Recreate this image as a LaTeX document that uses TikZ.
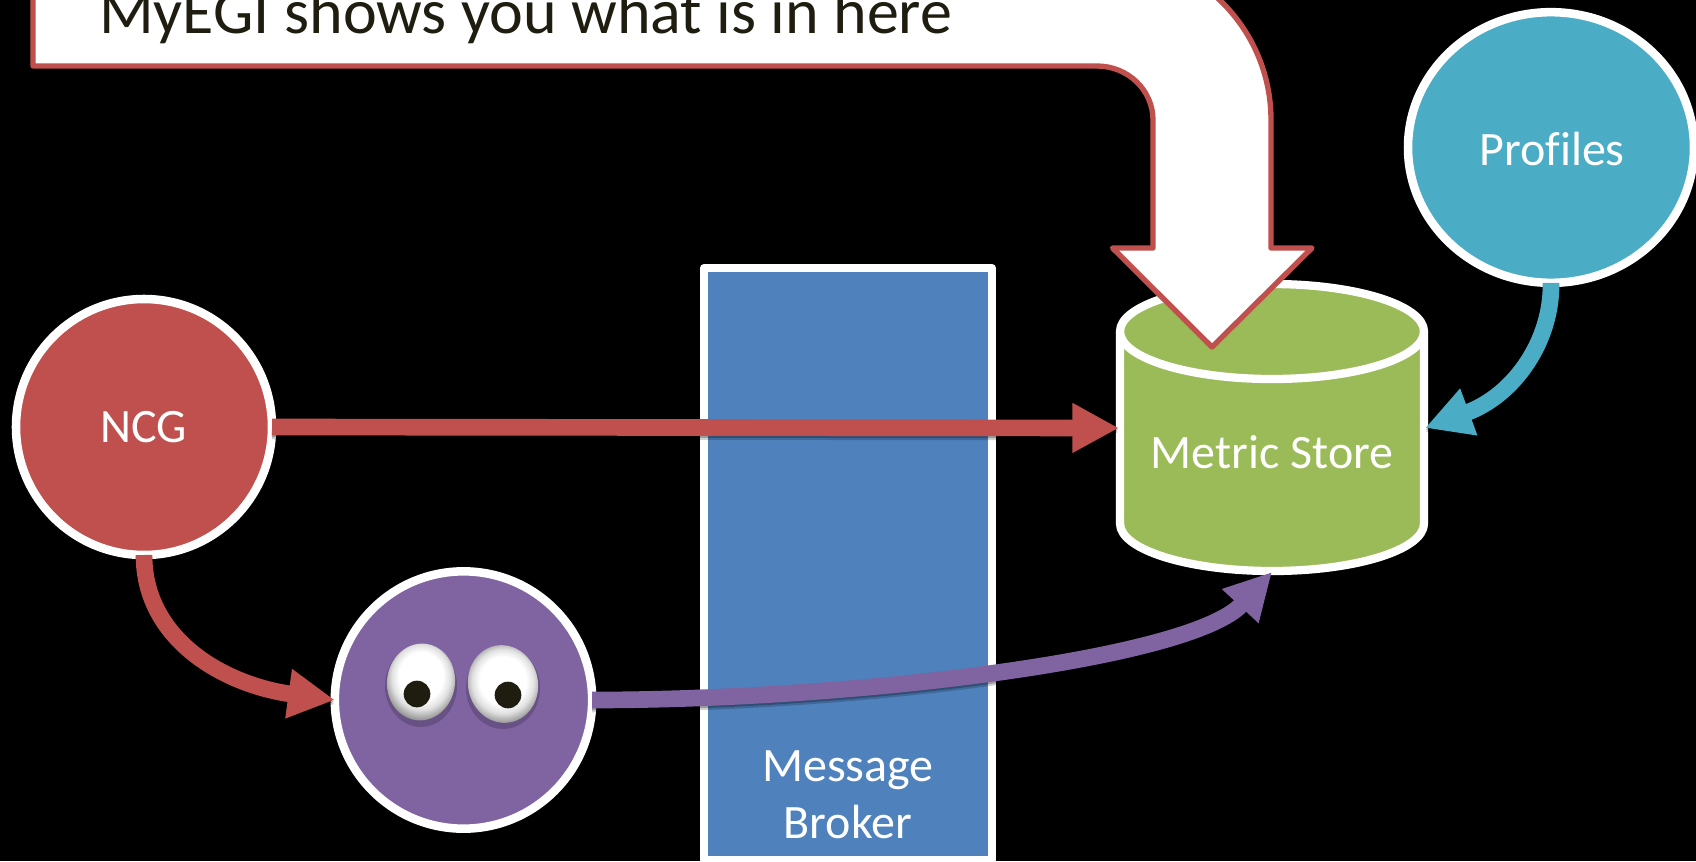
\documentclass[tikz,border=0pt]{standalone}
\usepackage{fontspec}
\setmainfont{Carlito}
\usetikzlibrary{arrows.meta,calc,shapes.geometric}
\definecolor{cred}{HTML}{C0504D}
\definecolor{cpurple}{HTML}{8064A2}
\definecolor{cblue}{HTML}{4F81BD}
\definecolor{cgreen}{HTML}{9BBB59}
\definecolor{cteal}{HTML}{4BACC6}
\definecolor{ctext}{HTML}{1F1C10}
\pgfdeclareradialshading{eyeshade}{\pgfpoint{0bp}{5bp}}{color(0bp)=(white);color(15bp)=(white);color(20bp)=(black!12);color(25bp)=(black!38);color(30bp)=(black!65);color(50bp)=(black!65)}
\tikzset{
  x=0.75pt,y=-0.75pt,
  blob/.style={draw=white,line width=6.4pt,inner sep=0pt,outer sep=0pt,text=white,font=\fontsize{36}{42}\selectfont,align=center},
  lbl/.style={text=white,font=\fontsize{36}{42.5}\selectfont,align=center,inner sep=0pt},
  headtip/.style={-{Triangle[length=35pt,width=35pt]}},
  conn/.style={line width=12.5pt,headtip,
    preaction={draw=black,opacity=.18,transform canvas={yshift=-3pt},line width=12.5pt,headtip},
    preaction={draw=black,opacity=.25,transform canvas={yshift=-1.5pt},line width=12.5pt,headtip}},
  eyeball/.style={shading=eyeshade,draw=none},
  eyeshadow/.style={fill=black,fill opacity=.18,draw=none},
  pupil/.style={fill=ctext,draw=none,circle,inner sep=0pt,minimum size=20pt},
}
\begin{document}
\begin{tikzpicture}
\useasboundingbox (0,0) rectangle (1696,861);
\fill[black] (0,0) rectangle (1696,861);
\clip (0,0) rectangle (1696,861);
% broker
\node[draw=white,fill=cblue,line width=6.2pt,line join=round,minimum width=216pt,minimum height=444pt,inner sep=0pt,outer sep=0pt,anchor=north] (broker) at (848,268) {};
\node[lbl] (brokerlabel) at (848,795) {Message\\Broker};
% nodes
\node[blob,circle,fill=cred,minimum size=192pt] (ncg) at (144,427) {NCG};
\node[blob,circle,fill=cpurple,minimum size=193pt] (watcher) at (463.5,700) {};
\node[blob,ellipse,fill=cteal,minimum width=214.5pt,minimum height=203pt] (profiles) at (1551,147.5) {};
\node[lbl] (profileslabel) at (1552,149) {Prof\kern0pt iles};
% metric store
\path[fill=cgreen,draw=white,line width=6.2pt,line join=round] (1120,331.5) arc[start angle=180,end angle=360,x radius=152,y radius=47.5] -- (1424,523.5) arc[start angle=0,end angle=180,x radius=152,y radius=47.5] -- cycle;
\draw[white,line width=6.2pt] (1120,331.5) arc[start angle=180,end angle=0,x radius=152,y radius=47.5];
\node[minimum width=229.5pt,minimum height=216pt,inner sep=0pt,outer sep=0pt] (store) at (1272,428) {};
\node[lbl] (storelabel) at (1272,452) {Metric Store};
% connectors
\draw[conn,cred] (ncg.east) -- (store.west);
\draw[conn,cred] (ncg.south) .. controls (144,640) and (225,685) .. (watcher.west);
\draw[conn,cpurple] (watcher.east) .. controls (850,700) and (1190,660) .. (store.south);
\draw[conn,cteal] (profiles.south) .. controls (1552,340) and (1515,395) .. (store.east);
% callout
\path[fill=white,draw=cred,line width=4pt,line join=round] (33,-60) -- (33,66) -- (1097,66) arc[start angle=-90,end angle=0,x radius=56,y radius=54] -- (1153,248) -- (1112.5,248) -- (1212,347) -- (1312,248) -- (1271,248) -- (1271,120) arc[start angle=0,end angle=-90,radius=166] -- (1105,-60) -- cycle;
\node[anchor=base west,inner sep=0pt,text=ctext,font=\fontsize{48}{52}\selectfont] (title) at (99,33) {MyEGI shows you what is in here};
% eyes
\path[eyeshadow] (421,686) ellipse[x radius=36,y radius=41];
\path[eyeshadow] (503,688) ellipse[x radius=37,y radius=41];
\path[eyeball,rotate around={-8:(421,682)}] (421,682) ellipse[x radius=34,y radius=38.5];
\path[eyeball,rotate around={12:(503,684)}] (503,684) ellipse[x radius=35,y radius=39];
\node[pupil] (pupilL) at (417,694) {};
\node[pupil] (pupilR) at (508,695) {};
\end{tikzpicture}
\end{document}
